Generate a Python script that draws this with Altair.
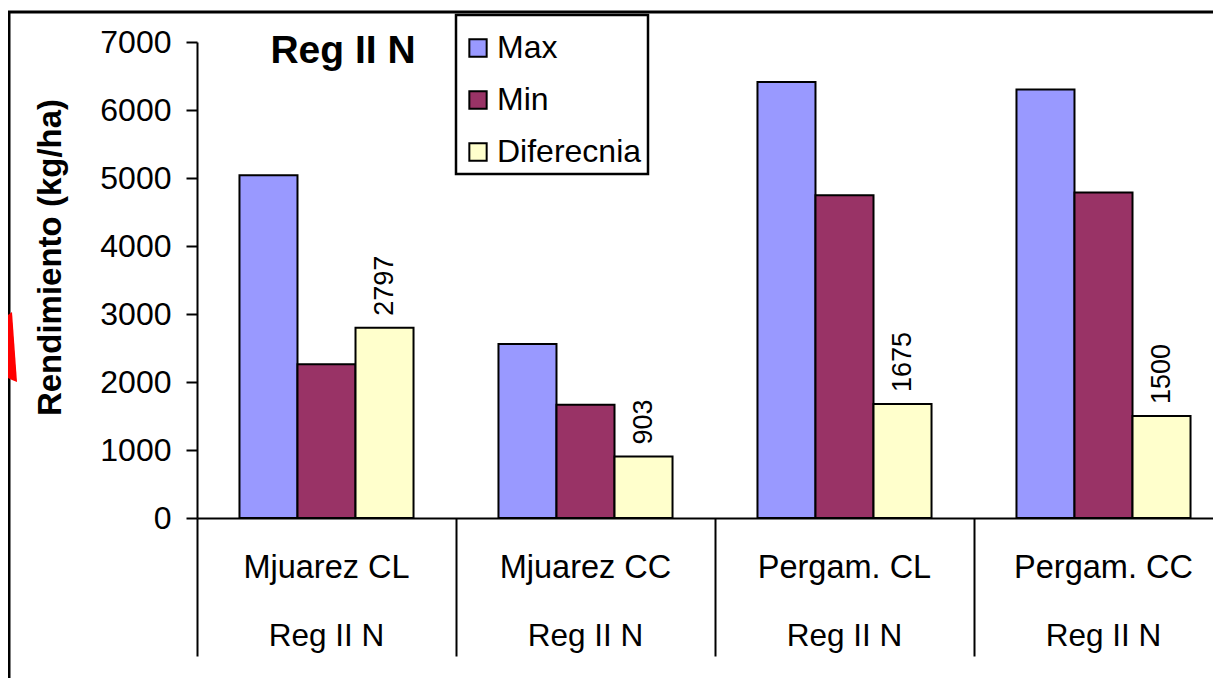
import altair as alt
import pandas as pd

groups = ["Mjuarez CL", "Mjuarez CC", "Pergam. CL", "Pergam. CC"]
series = ["Max", "Min", "Diferecnia"]
max_v = [5040, 2560, 6410, 6300]
min_v = [2260, 1665, 4745, 4785]
dif_v = [2797, 903, 1675, 1500]
colors = ["#9999FF", "#993366", "#FFFFCC"]
region = "Reg II N"

# decorations left over from the surrounding slide
frame_h_x = [-189, 1016]
frame_v_y = [-30, 645]
red_x = [-189, -185, -180]
red_top = [273, 270, 340]
red_bot = [336, 338, 340]

rows = []
for i, g in enumerate(groups):
    for s, vals in zip(series, [max_v, min_v, dif_v]):
        rows.append({"g": g, "s": s, "v": vals[i], "label": str(vals[i]) if s == "Diferecnia" else ""})
df = pd.DataFrame(rows)
FONT = "Liberation Sans"
W, H = 1016, 476

x_scale = alt.Scale(domain=groups, range=[0, 1036], paddingInner=0.328, paddingOuter=0.164)
y_scale = alt.Scale(domain=[0, 7000], nice=False)
off_scale = alt.Scale(domain=series)

x = alt.X("g:N", sort=groups, title=None, scale=x_scale,
          axis=alt.Axis(labelFontSize=32.5, labelFont=FONT, labelColor="black", labelAngle=0, labelPadding=-105,
                        labelBaseline="top", domainColor="black", domainWidth=2, tickColor="black", tickWidth=2,
                        tickSize=138, grid=False, bandPosition=0, tickOffset=-42.5, labelOffset=42,
                        labelOverlap=False))
y = alt.Y("v:Q", title="Rendimiento (kg/ha)", scale=y_scale,
          axis=alt.Axis(values=list(range(0, 7001, 1000)), format="d", labelFontSize=32, labelFont=FONT,
                        labelColor="black", labelPadding=15, titleFontSize=33, titleFont=FONT, titleFontWeight="bold",
                        titleColor="black", titleX=-147, titleY=215, titleAlign="center", titleBaseline="middle",
                        domainColor="black", domainWidth=2, tickColor="black",
                        tickWidth=2, tickSize=11, grid=False))

bars = alt.Chart(df).mark_bar(stroke="black", strokeWidth=2).encode(
    x=x, y=y, xOffset=alt.XOffset("s:N", sort=series, scale=off_scale),
    color=alt.Color("s:N", sort=series, scale=alt.Scale(domain=series, range=colors),
                    legend=alt.Legend(title=None, orient="none", legendX=259, legendY=-22, padding=12,
                                      labelFontSize=32, labelFont=FONT, labelColor="black", labelOffset=3,
                                      symbolOffset=-6, symbolType="square", symbolSize=300,
                                      symbolStrokeColor="black", symbolStrokeWidth=2, rowPadding=20)))
text = alt.Chart(df[df.label != ""]).mark_text(angle=270, align="left", baseline="middle", dx=12, fontSize=27,
                                               font=FONT, color="black").encode(
    x=x, xOffset=alt.XOffset("s:N", sort=series, scale=off_scale), y=y, text="label:N")
region_labels = alt.Chart(pd.DataFrame({"g": groups, "t": [region] * 4})).mark_text(
    fontSize=31.5, font=FONT, color="black", baseline="middle").encode(
    x=x, y=alt.value(595), text="t:N")
title = alt.Chart(pd.DataFrame({"t": [region]})).mark_text(
    fontSize=39, font=FONT, fontWeight="bold", color="black", align="center", baseline="middle").encode(
    x=alt.value(146), y=alt.value(9), text="t:N")

frame_h = alt.Chart(pd.DataFrame({"x": frame_h_x, "y": [-30, -30]})).mark_line(color="black", strokeWidth=3).encode(
    x=alt.X("x:Q", scale=None), y=alt.Y("y:Q", scale=None))
frame_v = alt.Chart(pd.DataFrame({"x": [-188, -188], "y": frame_v_y})).mark_line(color="black", strokeWidth=3).encode(
    x=alt.X("x:Q", scale=None), y=alt.Y("y:Q", scale=None))
red = alt.Chart(pd.DataFrame({"x": red_x, "y": red_top, "y2": red_bot})).mark_area(color="#FF0000", opacity=1).encode(
    x=alt.X("x:Q", scale=None), y=alt.Y("y:Q", scale=None), y2="y2:Q")
legend_box = alt.Chart(pd.DataFrame({"a": [0]})).mark_rect(fill="white", stroke="black", strokeWidth=2.5).encode(
    x=alt.value(259), x2=alt.value(451), y=alt.value(-27), y2=alt.value(132))

chart = alt.layer(
    alt.layer(frame_h, frame_v, red, legend_box),
    alt.layer(bars, text, region_labels, title),
).resolve_scale(x="independent", y="independent").properties(
    width=W, height=H, autosize=alt.AutoSizeParams(type="none"),
    padding={"left": 189, "top": 34, "right": 0, "bottom": 160},
).configure_view(stroke=None)
chart.save("out.html", embed_options={"renderer": "svg", "actions": False})
